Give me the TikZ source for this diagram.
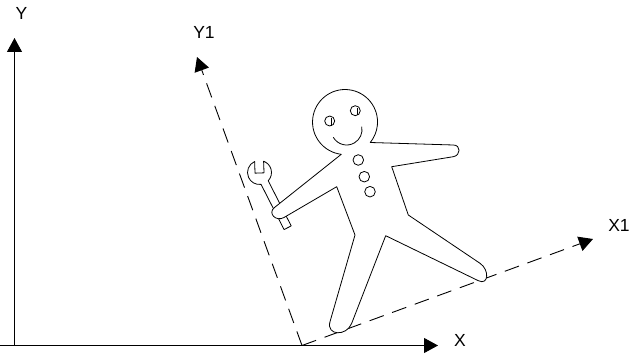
\documentclass[tikz,border=0pt]{standalone}
\usepackage{fontspec}
\setmainfont{Liberation Sans}
\usetikzlibrary{arrows.meta}
\begin{document}
\begin{tikzpicture}[x=1pt,y=1pt,
  axis/.style={line width=0.9pt,-{Triangle[length=14pt,width=15pt]}},
  frameaxis/.style={axis,dash pattern=on 15pt off 9pt},
  outline/.style={line width=0.8pt,line join=round},
  lab/.style={font=\fontsize{17.5}{20}\selectfont,inner sep=0pt}]
\useasboundingbox (0,0) rectangle (633,-355);

% fixed frame
\coordinate (xstart) at (0,-345.5);
\coordinate (o) at (14.5,-345.5);
\coordinate (xtip) at (438,-345.5);
\coordinate (ytip) at (14.5,-38);
\draw[axis] (xstart) -- (xtip);
\draw[axis] (o) -- (ytip);
\node[lab] (xlab) at (460,-340) {X};
\node[lab] (ylab) at (21.5,-13) {Y};

% rotated frame
\coordinate (o1) at (302,-345.5);
\coordinate (x1tip) at (593,-239);
\coordinate (y1tip) at (197,-57);
\draw[frameaxis] (o1) -- (x1tip);
\draw[frameaxis] (o1) -- (y1tip);
\node[lab] (x1lab) at (619,-225) {X1};
\node[lab] (y1lab) at (204,-32.5) {Y1};

% wrench
\begin{scope}[shift={(259.5,-172.5)},rotate=27]
  \draw[outline,fill=white] (4,-11.31) arc[start angle=-70.5,end angle=43,radius=12]
    -- (3.87,-2.35) -- (-4.29,1.45) -- (87:12)
    arc[start angle=87,end angle=250.5,radius=12]
    -- (-4,-62) -- (4,-62) -- cycle;
\end{scope}

% gingerbread figure
\draw[outline,fill=white] (370.3,-142.5) -- (453.3,-145)
  to[out=0,in=10,looseness=1.7] (453.3,-156.7)
  -- (391.7,-166.7) -- (408.3,-215) -- (480,-263.3)
  to[out=-34,in=-26,looseness=1.7] (478.3,-280.7)
  -- (385.7,-235.7) -- (351.7,-323.3)
  to[out=-111,in=-106,looseness=1.7] (330,-321.7)
  -- (355,-235) -- (336.7,-186.7) -- (284,-217.5)
  to[out=210,in=218,looseness=1.7] (274.5,-207.5)
  -- (341.3,-154.3) arc[start angle=263.4,end angle=-39,radius=32.5] -- cycle;

% eyes
\draw[outline] (329.7,-121) circle[radius=5];
\draw[outline] (331.4,-118.5) -- (331.4,-125.7);
\draw[outline] (355.3,-110.7) circle[radius=5];
\draw[outline] (357,-108.2) -- (357,-115.4);
% smile
\draw[outline] (333.3,-137.3) arc[start angle=210,end angle=371,radius=15.4];
% buttons
\draw[outline] (358.3,-160) circle[radius=5.3];
\draw[outline] (364.3,-176.7) circle[radius=5.3];
\draw[outline] (370,-191.7) circle[radius=5.3];
\end{tikzpicture}
\end{document}
